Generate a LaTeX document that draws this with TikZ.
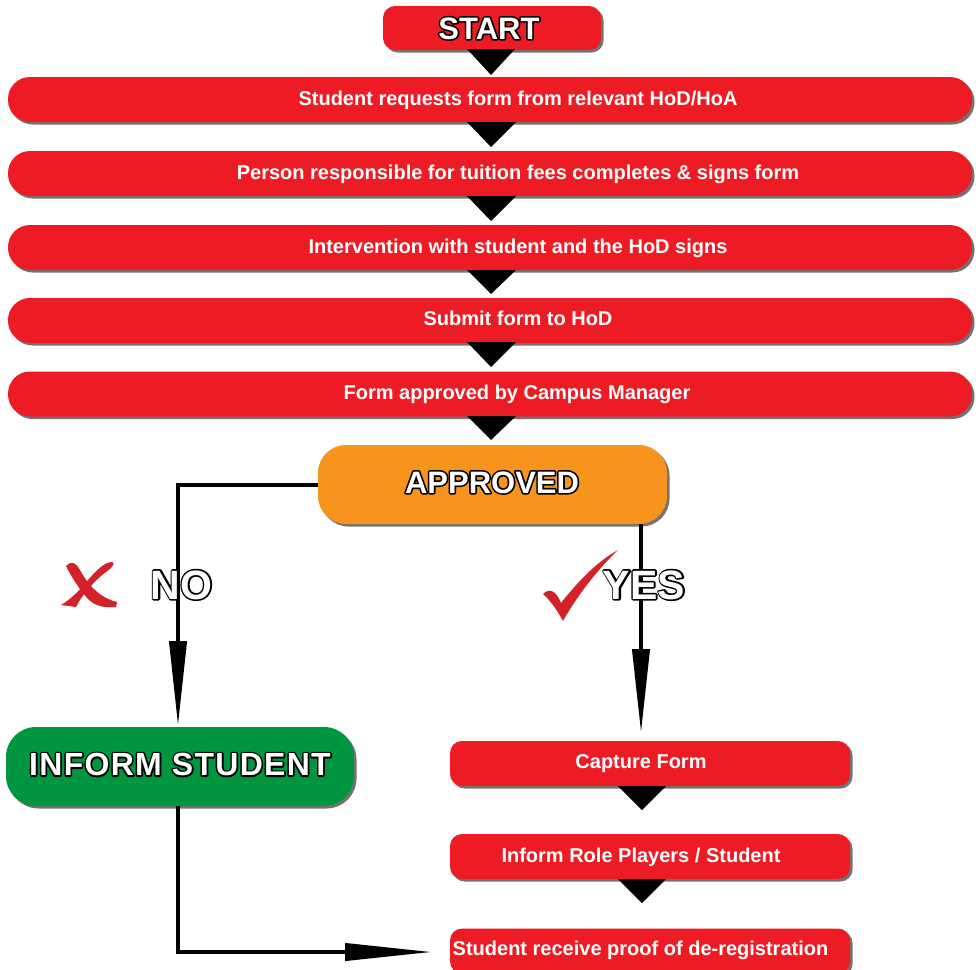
\documentclass[tikz,border=0pt]{standalone}
\usepackage{fontspec}
\setmainfont{Liberation Sans}
\usetikzlibrary{shadows,arrows.meta,calc}
\definecolor{bred}{HTML}{ED1C24}
\definecolor{borange}{HTML}{F7941D}
\definecolor{bgreen}{HTML}{00963F}
\definecolor{mred}{HTML}{D2232A}
\newcommand\olt[2]{\rlap{\special{pdf:literal direct 0 G 0 g 1 j #1 w 2 Tr}#2\special{pdf:literal direct 0 Tr 1 g 1 G}}#2}
\tikzset{
  shad/.style={drop shadow={shadow xshift=2.5pt, shadow yshift=-2.5pt, fill=black!55, opacity=1}},
  redbar/.style={shad, fill=bred, rounded corners=22pt, inner sep=0pt, minimum width=964pt, minimum height=45pt},
  smallbar/.style={shad, fill=bred, rounded corners=12pt, inner sep=0pt, minimum width=400pt, minimum height=45pt},
  bartext/.style={text=white, anchor=base, inner sep=0pt, font=\fontsize{20}{24}\selectfont\bfseries},
  bigtext/.style={text=white, anchor=base, inner sep=0pt, font=\fontsize{#1}{#1}\selectfont\bfseries},
  conn/.style={line width=4pt, black},
  tri/.style={fill=black},
}
\begin{document}
\begin{tikzpicture}[x=1pt,y=-1pt]
\useasboundingbox (0,0) rectangle (979,969);

% START
\node[shad, fill=bred, rounded corners=12pt, inner sep=0pt, minimum width=218pt, minimum height=44pt] (start) at (492,28) {};
\node[bigtext=31] (startt) at (489,39) {\olt{3.2}{START}};
\fill[tri] (467,49) -- (515,49) -- (491,75) -- cycle;

% main bars
\node[redbar] (b1) at (490,99.5) {};
\node[bartext] (b1t) at (518,105) {Student requests form from relevant HoD/HoA};
\node[redbar] (b2) at (490,173.5) {};
\node[bartext] (b2t) at (518,179) {Person responsible for tuition fees completes \& signs form};
\node[redbar] (b3) at (490,247.5) {};
\node[bartext] (b3t) at (518,253) {Intervention with student and the HoD signs};
\node[redbar] (b4) at (490,320.5) {};
\node[bartext] (b4t) at (518,325) {Submit form to HoD};
\node[redbar] (b5) at (490,394) {};
\node[bartext] (b5t) at (517,399) {Form approved by Campus Manager};

\fill[tri] (467,122) -- (516,122) -- (491,147) -- cycle;
\fill[tri] (467,196) -- (516,196) -- (491,221) -- cycle;
\fill[tri] (467,270) -- (516,270) -- (491,294) -- cycle;
\fill[tri] (467,342) -- (516,342) -- (491,367) -- cycle;
\fill[tri] (467,416) -- (516,416) -- (491,440) -- cycle;

% connector points
\coordinate (noTurn) at (178,485);
\coordinate (noEnd) at (178,726);
\coordinate (yesStart) at (641,524);
\coordinate (yesEnd) at (641,733);
\coordinate (infStart) at (178,806);
\coordinate (infTurn) at (178,952);
\coordinate (infEnd) at (432,952);

% APPROVED
\node[shad, fill=borange, rounded corners=28pt, inner sep=0pt, minimum width=349pt, minimum height=79pt] (appr) at (492.5,484.5) {};
\draw[conn, -{Triangle[length=85pt,width=17pt]}] (appr.west |- noTurn) -- (noTurn) -- (noEnd);
\draw[conn, -{Triangle[length=84pt,width=17pt]}] (yesStart) -- (yesEnd);
\node[bigtext=31] (apprt) at (492,493) {\olt{3.2}{APPROVED}};

% INFORM STUDENT
\node[shad, fill=bgreen, rounded corners=30pt, inner sep=0pt, minimum width=348pt, minimum height=79pt] (inform) at (180,766.5) {};
\node[bigtext=32] (informt) at (180,775.5) {\addfontfeatures{LetterSpace=4}\olt{3.2}{INFORM STUDENT}};
\draw[conn, -{Triangle[length=87pt,width=17pt]}] (infStart) -- (infTurn) -- (infEnd);

% NO / YES
\node[bigtext=41] (not) at (181.5,599) {\olt{3.2}{NO}};
\node[bigtext=41] (yest) at (644,599) {\olt{3.2}{YES}};

% cross
\fill[mred] (66,566) .. controls (72,560) and (76,563) .. (80,570) .. controls (88,585) and (100,598) .. (117,602) -- (116,607) .. controls (104,608) and (95,606) .. (88,599) .. controls (80,590) and (72,578) .. (66,566) -- cycle;
\fill[mred] (112,562) .. controls (116,563) and (112,568) .. (106,572) .. controls (95,580) and (82,595) .. (76,607) -- (61,605) .. controls (70,600) and (80,590) .. (88,580) .. controls (95,572) and (104,562) .. (112,562) -- cycle;
% check
\fill[mred] (543,594) .. controls (549,588) and (556,590) .. (561,603) .. controls (576,584) and (596,562) .. (618,550) .. controls (600,567) and (578,594) .. (563,621) .. controls (557,610) and (550,600) .. (543,594) -- cycle;

% right column
\node[smallbar] (cap) at (650,763.5) {};
\node[bartext] (capt) at (641,768) {Capture Form};
\fill[tri] (618,786) -- (666,786) -- (642,810) -- cycle;
\node[smallbar] (irp) at (650,856.5) {};
\node[bartext] (irpt) at (641,862) {Inform Role Players / Student};
\fill[tri] (618,879) -- (666,879) -- (642,903) -- cycle;
\node[smallbar] (srp) at (650,951) {};
\node[bartext] (srpt) at (640.5,955) {Student receive proof of de-registration};
\end{tikzpicture}
\end{document}
